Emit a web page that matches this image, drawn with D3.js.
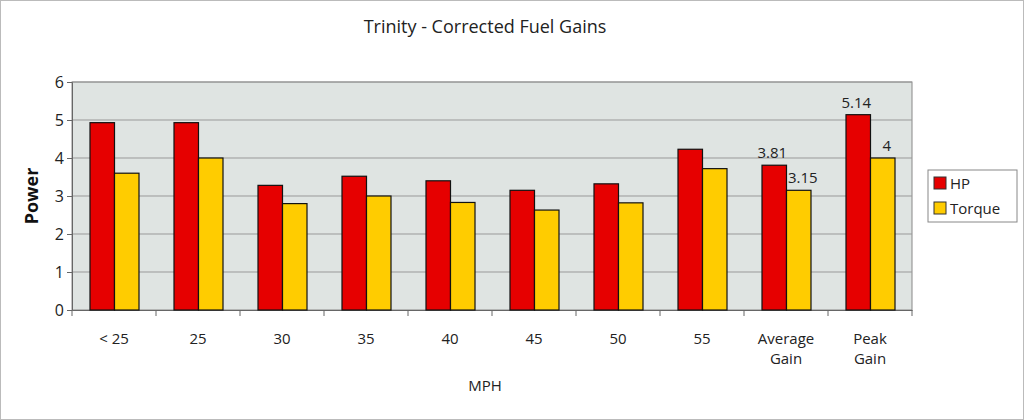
<!DOCTYPE html><html><head><meta charset="utf-8"><script src="https://cdn.jsdelivr.net/npm/d3@7"></script>
<style>body{margin:0;background:#fff}text{font-family:"Open Sans",sans-serif}</style></head><body>
<svg id="c" width="1024" height="420"></svg>
<script>
const categories=["< 25","25","30","35","40","45","50","55","Average\nGain","Peak\nGain"];
const hp=[4.93,4.93,3.28,3.52,3.4,3.15,3.32,4.23,3.81,5.14];
const torque=[3.6,4.0,2.8,3.0,2.83,2.63,2.82,3.72,3.15,4];
const hpLabels=[null,null,null,null,null,null,null,null,"3.81","5.14"];
const tqLabels=[null,null,null,null,null,null,null,null,"3.15","4"];
const yTicks=[0,1,2,3,4,5,6];
const svg=d3.select("#c");
svg.append("rect").attr("x",0.5).attr("y",0.5).attr("width",1023).attr("height",419).attr("fill","#fff").attr("stroke","#bbb");
const L=72,R=912,T=82,B=310;
const x=d3.scaleBand().domain(categories).range([L,R]);
const y=d3.scaleLinear().domain([0,6]).range([B,T]);
svg.append("rect").attr("x",L).attr("y",T).attr("width",R-L).attr("height",B-T).attr("fill","#dfe4e2").attr("stroke","#888");
svg.selectAll(".g").data(yTicks.slice(1)).enter().append("line").attr("x1",L).attr("x2",R).attr("y1",d=>y(d)).attr("y2",d=>y(d)).attr("stroke","#999");
const ya=svg.append("g").attr("transform",`translate(${L},0)`).call(d3.axisLeft(y).tickValues(yTicks).tickSize(5).tickFormat(d3.format("d")));
ya.selectAll("text").attr("font-size",16).attr("fill","#222").attr("font-family","Open Sans");
ya.select(".domain").attr("stroke","#666");ya.selectAll("line").attr("stroke","#666");
const xa=svg.append("g").attr("transform",`translate(0,${B})`).call(d3.axisBottom(x).tickSize(0).tickFormat(""));
xa.select(".domain").attr("stroke","#666");
categories.forEach(c=>{const xx=x(c);svg.append("line").attr("x1",xx+x.bandwidth()).attr("x2",xx+x.bandwidth()).attr("y1",B).attr("y2",B+6).attr("stroke","#666");});
svg.append("line").attr("x1",L).attr("x2",L).attr("y1",B).attr("y2",B+6).attr("stroke","#666");
categories.forEach(c=>{const lines=c.split("\n");lines.forEach((s,i)=>svg.append("text").attr("x",x(c)+x.bandwidth()/2).attr("y",B+34+i*20).attr("text-anchor","middle").attr("font-size",15).attr("fill","#222").text(s));});
const bw=24.5,off=18;
const g=svg.append("g");
g.selectAll(".hp").data(hp).enter().append("rect").attr("x",(d,i)=>x(categories[i])+off).attr("y",d=>y(d)).attr("width",bw).attr("height",d=>B-y(d)).attr("fill","#e60000").attr("stroke","#111").attr("stroke-width",1.2);
g.selectAll(".tq").data(torque).enter().append("rect").attr("x",(d,i)=>x(categories[i])+off+bw).attr("y",d=>y(d)).attr("width",bw).attr("height",d=>B-y(d)).attr("fill","#ffcc00").attr("stroke","#111").attr("stroke-width",1.2);
hpLabels.forEach((l,i)=>{if(l)svg.append("text").attr("x",x(categories[i])+off+bw/2-2).attr("y",y(hp[i])-7).attr("text-anchor","middle").attr("font-size",15).attr("fill","#222").text(l);});
tqLabels.forEach((l,i)=>{if(l)svg.append("text").attr("x",x(categories[i])+off+bw*1.5+4).attr("y",y(torque[i])-7).attr("text-anchor","middle").attr("font-size",15).attr("fill","#222").text(l);});
svg.append("text").attr("x",485).attr("y",33).attr("text-anchor","middle").attr("font-size",18).attr("fill","#222").text("Trinity - Corrected Fuel Gains");
svg.append("text").attr("x",485).attr("y",391).attr("text-anchor","middle").attr("font-size",15).attr("fill","#222").text("MPH");
svg.append("text").attr("transform","translate(38,196) rotate(-90)").attr("text-anchor","middle").attr("font-size",18).attr("font-weight","bold").attr("fill","#111").text("Power");
const lg=svg.append("g");
lg.append("rect").attr("x",928).attr("y",170).attr("width",89).attr("height",52).attr("fill","#fff").attr("stroke","#888");
[["HP","#e60000"],["Torque","#ffcc00"]].forEach((s,i)=>{lg.append("rect").attr("x",934).attr("y",177+i*25).attr("width",12).attr("height",12).attr("fill",s[1]).attr("stroke","#333");lg.append("text").attr("x",950).attr("y",189+i*25).attr("font-size",15).attr("fill","#222").text(s[0]);});
</script></body></html>
